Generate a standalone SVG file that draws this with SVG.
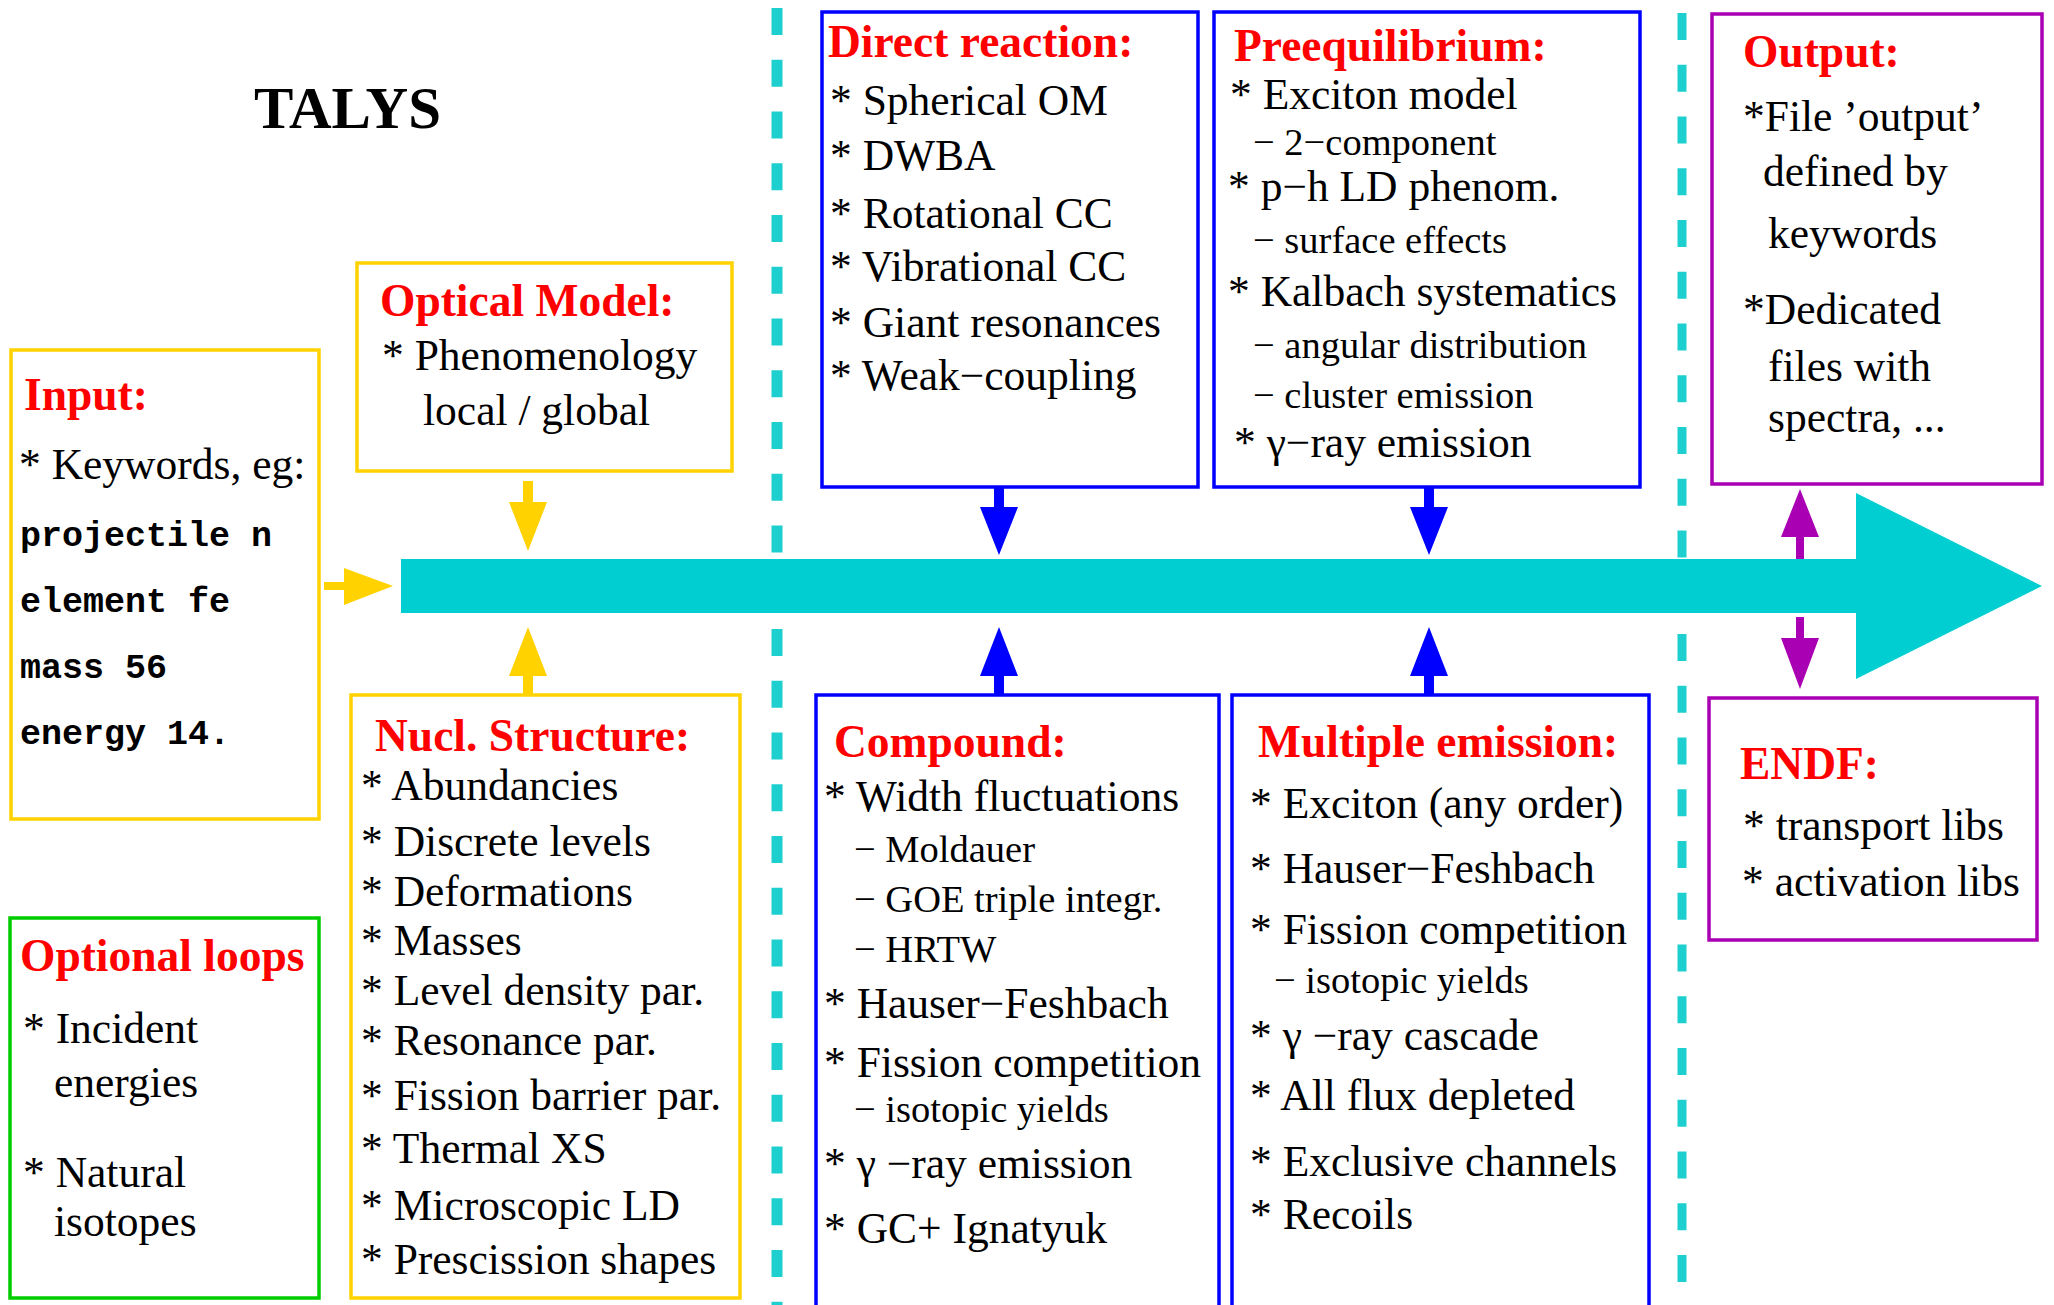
<svg xmlns="http://www.w3.org/2000/svg" width="2054" height="1305" viewBox="0 0 2054 1305">
<style>
.bg{fill:#ffffff}
.box{fill:none;stroke-width:3.5}
.y{stroke:#FFD200}
.b{stroke:#0000FF}
.p{stroke:#AA00B4}
.g{stroke:#00CC00}
.t{font-family:"Liberation Serif","Times New Roman",serif;font-weight:bold;font-size:45.5px;fill:#FF0000}
.i{font-family:"Liberation Serif","Times New Roman",serif;font-size:43.5px;fill:#000}
.s{font-family:"Liberation Serif","Times New Roman",serif;font-size:38.5px;fill:#000}
.m{font-family:"Liberation Mono","Courier New",monospace;font-weight:bold;font-size:35px;fill:#000}
.dash{stroke:#1ECFCF;stroke-dasharray:27 24.75;fill:none}
</style>
<rect class="bg" x="0" y="0" width="2054" height="1305"/>
<g id="separators">
<line class="dash" x1="777" y1="8" x2="777" y2="1305" stroke-width="11"/>
<line class="dash" x1="1682" y1="13" x2="1682" y2="1305" stroke-width="9"/>
</g>
<g id="title"><text x="254" y="128" style="font-family:'Liberation Serif','Times New Roman',serif;font-weight:bold;font-size:59px;fill:#000">TALYS</text></g>
<g id="main-arrow"><polygon points="401,559 1856,559 1856,493 2042,586 1856,679 1856,613 401,613" fill="#00CED1"/></g>
<g id="connectors">
<polygon points="324,582 344,582 344,568 393,586 344,605 344,590 324,590" fill="#FFD200"/>
<polygon points="523,481 533,481 533,502 547,502 528,551 509,502 523,502" fill="#FFD200"/>
<polygon points="523,695 533,695 533,676 547,676 528,627 509,676 523,676" fill="#FFD200"/>
<polygon points="994,487 1004,487 1004,507 1018,507 999,555 980,507 994,507" fill="#0000FF"/>
<polygon points="1424,487 1434,487 1434,507 1448,507 1429,555 1410,507 1424,507" fill="#0000FF"/>
<polygon points="994,695 1004,695 1004,676 1018,676 999,627 980,676 994,676" fill="#0000FF"/>
<polygon points="1424,695 1434,695 1434,676 1448,676 1429,627 1410,676 1424,676" fill="#0000FF"/>
<polygon points="1796,559 1804,559 1804,537 1819,537 1800,489 1781,537 1796,537" fill="#AA00B4"/>
<polygon points="1796,617 1804,617 1804,638 1819,638 1800,689 1781,638 1796,638" fill="#AA00B4"/>
</g>
<g id="input">
<rect class="box y" x="11" y="350" width="308" height="469"/>
<text class="t" x="24" y="410">Input:</text>
<text class="i" x="19" y="479">* Keywords, eg:</text>
<text class="m" x="20" y="546">projectile n</text>
<text class="m" x="20" y="612">element fe</text>
<text class="m" x="20" y="678">mass 56</text>
<text class="m" x="20" y="744">energy 14.</text>
</g>
<g id="optical-model">
<rect class="box y" x="357" y="263" width="375" height="208"/>
<text class="t" x="380" y="316">Optical Model:</text>
<text class="i" x="382" y="370">* Phenomenology</text>
<text class="i" x="423" y="425">local / global</text>
</g>
<g id="nucl-structure">
<rect class="box y" x="351" y="695" width="389" height="603"/>
<text class="t" x="375" y="751">Nucl. Structure:</text>
<text class="i" x="361" y="800">* Abundancies</text>
<text class="i" x="361" y="856">* Discrete levels</text>
<text class="i" x="361" y="906">* Deformations</text>
<text class="i" x="361" y="955">* Masses</text>
<text class="i" x="361" y="1005">* Level density par.</text>
<text class="i" x="361" y="1055">* Resonance par.</text>
<text class="i" x="361" y="1110">* Fission barrier par.</text>
<text class="i" x="361" y="1163">* Thermal XS</text>
<text class="i" x="361" y="1220">* Microscopic LD</text>
<text class="i" x="361" y="1274">* Prescission shapes</text>
</g>
<g id="optional-loops">
<rect class="box g" x="10" y="918" width="309" height="380"/>
<text class="t" x="20" y="971">Optional loops</text>
<text class="i" x="23" y="1043">* Incident</text>
<text class="i" x="54" y="1097">energies</text>
<text class="i" x="23" y="1187">* Natural</text>
<text class="i" x="54" y="1236">isotopes</text>
</g>
<g id="direct-reaction">
<rect class="box b" x="822" y="12" width="376" height="475"/>
<text class="t" x="828" y="57">Direct reaction:</text>
<text class="i" x="830" y="115">* Spherical OM</text>
<text class="i" x="830" y="170">* DWBA</text>
<text class="i" x="830" y="228">* Rotational CC</text>
<text class="i" x="830" y="281">* Vibrational CC</text>
<text class="i" x="830" y="337">* Giant resonances</text>
<text class="i" x="830" y="390">* Weak−coupling</text>
</g>
<g id="preequilibrium">
<rect class="box b" x="1214" y="12" width="426" height="475"/>
<text class="t" x="1234" y="61">Preequilibrium:</text>
<text class="i" x="1230" y="109">* Exciton model</text>
<text class="s" x="1253" y="155">− 2−component</text>
<text class="i" x="1228" y="201">* p−h LD phenom.</text>
<text class="s" x="1253" y="253">− surface effects</text>
<text class="i" x="1228" y="306">* Kalbach systematics</text>
<text class="s" x="1253" y="358">− angular distribution</text>
<text class="s" x="1253" y="408">− cluster emission</text>
<text class="i" x="1234" y="457">* γ−ray emission</text>
</g>
<g id="compound">
<rect class="box b" x="816" y="695" width="403" height="620"/>
<text class="t" x="834" y="757">Compound:</text>
<text class="i" x="824" y="811">* Width fluctuations</text>
<text class="s" x="854" y="862">− Moldauer</text>
<text class="s" x="854" y="912">− GOE triple integr.</text>
<text class="s" x="854" y="962">− HRTW</text>
<text class="i" x="824" y="1018">* Hauser−Feshbach</text>
<text class="i" x="824" y="1077">* Fission competition</text>
<text class="s" x="854" y="1122">− isotopic yields</text>
<text class="i" x="824" y="1178">* γ −ray emission</text>
<text class="i" x="824" y="1243">* GC+ Ignatyuk</text>
</g>
<g id="multiple-emission">
<rect class="box b" x="1232" y="695" width="417" height="620"/>
<text class="t" x="1258" y="757">Multiple emission:</text>
<text class="i" x="1250" y="818">* Exciton (any order)</text>
<text class="i" x="1250" y="883">* Hauser−Feshbach</text>
<text class="i" x="1250" y="944">* Fission competition</text>
<text class="s" x="1274" y="993">− isotopic yields</text>
<text class="i" x="1250" y="1050">* γ −ray cascade</text>
<text class="i" x="1250" y="1110">* All flux depleted</text>
<text class="i" x="1250" y="1176">* Exclusive channels</text>
<text class="i" x="1250" y="1229">* Recoils</text>
</g>
<g id="output">
<rect class="box p" x="1712" y="14" width="330" height="470"/>
<text class="t" x="1743" y="67">Output:</text>
<text class="i" x="1743" y="131">*File ’output’</text>
<text class="i" x="1763" y="186">defined by</text>
<text class="i" x="1768" y="248">keywords</text>
<text class="i" x="1743" y="324">*Dedicated</text>
<text class="i" x="1768" y="381">files with</text>
<text class="i" x="1768" y="432">spectra, ...</text>
</g>
<g id="endf">
<rect class="box p" x="1709" y="698" width="328" height="242"/>
<text class="t" x="1740" y="779">ENDF:</text>
<text class="i" x="1743" y="840">*  transport libs</text>
<text class="i" x="1742" y="896">*  activation libs</text>
</g>
</svg>
